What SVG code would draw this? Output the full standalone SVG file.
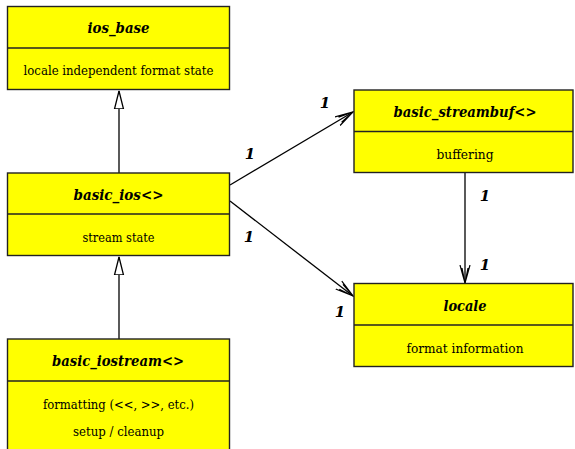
<svg xmlns="http://www.w3.org/2000/svg" width="575" height="449" viewBox="0 0 575 449">
<style>
.box{fill:#ffff00;stroke:#222;stroke-width:1.4}
.div{stroke:#222;stroke-width:1.4}
text{font-family:"DejaVu Serif",serif;text-anchor:middle;fill:#000}
.t{font-style:italic;font-weight:bold;font-size:14.5px}
.b{font-size:12.5px}
.m{font-style:italic;font-weight:bold;font-size:15px}
.ln{stroke:#000;stroke-width:1.3;fill:none}
</style>
<defs>
<marker id="open" markerUnits="userSpaceOnUse" markerWidth="20" markerHeight="12" refX="18" refY="6" orient="auto">
<path d="M0,1 L18,6 L0,11 M3,3 L18,6 L3,9" fill="none" stroke="#000" stroke-width="1.2"/>
</marker>
<marker id="tri" markerUnits="userSpaceOnUse" markerWidth="20" markerHeight="12" refX="18" refY="6" orient="auto">
<path d="M0,1.5 L18,6 L0,10.5 Z" fill="#fff" stroke="#000" stroke-width="1.3"/>
</marker>
</defs>
<g id="connectors">
<line class="ln" x1="119" y1="173" x2="119" y2="91" marker-end="url(#tri)"/>
<line class="ln" x1="119" y1="339" x2="119" y2="257" marker-end="url(#tri)"/>
<line class="ln" x1="230" y1="185" x2="353" y2="112" marker-end="url(#open)"/>
<line class="ln" x1="230" y1="201" x2="353" y2="296" marker-end="url(#open)"/>
<line class="ln" x1="465" y1="172" x2="465" y2="283" marker-end="url(#open)"/>
<text class="m" x="250" y="159">1</text>
<text class="m" x="325" y="108">1</text>
<text class="m" x="249" y="242">1</text>
<text class="m" x="340" y="317">1</text>
<text class="m" x="485" y="201">1</text>
<text class="m" x="485" y="270">1</text>
</g>
<g id="ios_base">
<rect class="box" x="7.5" y="6.5" width="222" height="83"/>
<line class="div" x1="7.5" y1="48" x2="229.5" y2="48"/>
<text class="t" x="118.5" y="33" textLength="62" lengthAdjust="spacingAndGlyphs">ios_base</text>
<text class="b" x="118.5" y="75" textLength="190" lengthAdjust="spacingAndGlyphs">locale independent format state</text>
</g>
<g id="basic_ios">
<rect class="box" x="7.5" y="173" width="222" height="82.5"/>
<line class="div" x1="7.5" y1="214" x2="229.5" y2="214"/>
<text class="t" x="118.5" y="200" textLength="90" lengthAdjust="spacingAndGlyphs">basic_ios&lt;&gt;</text>
<text class="b" x="118.5" y="242" textLength="72" lengthAdjust="spacingAndGlyphs">stream state</text>
</g>
<g id="basic_iostream">
<rect class="box" x="7.5" y="339" width="222" height="120"/>
<line class="div" x1="7.5" y1="381" x2="229.5" y2="381"/>
<text class="t" x="118" y="366" textLength="132" lengthAdjust="spacingAndGlyphs">basic_iostream&lt;&gt;</text>
<text class="b" x="118.5" y="409" textLength="151" lengthAdjust="spacingAndGlyphs">formatting (&lt;&lt;, &gt;&gt;, etc.)</text>
<text class="b" x="118.5" y="436" textLength="91" lengthAdjust="spacingAndGlyphs">setup / cleanup</text>
</g>
<g id="basic_streambuf">
<rect class="box" x="354" y="90" width="219" height="82.5"/>
<line class="div" x1="354" y1="131.5" x2="573" y2="131.5"/>
<text class="t" x="465" y="117" textLength="143" lengthAdjust="spacingAndGlyphs">basic_streambuf&lt;&gt;</text>
<text class="b" x="465" y="159" textLength="57" lengthAdjust="spacingAndGlyphs">buffering</text>
</g>
<g id="locale">
<rect class="box" x="354" y="283.5" width="219" height="83"/>
<line class="div" x1="354" y1="325" x2="573" y2="325"/>
<text class="t" x="465" y="311" textLength="43" lengthAdjust="spacingAndGlyphs">locale</text>
<text class="b" x="465" y="353" textLength="117" lengthAdjust="spacingAndGlyphs">format information</text>
</g>
</svg>
